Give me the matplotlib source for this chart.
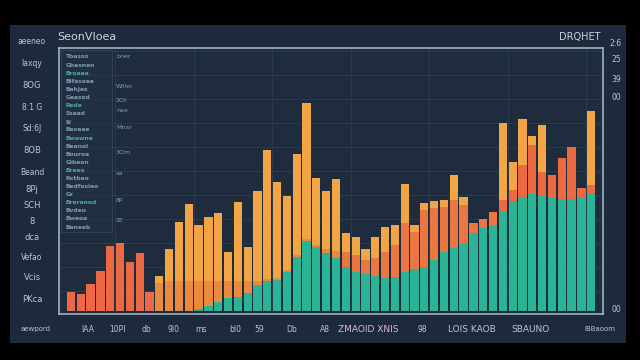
import matplotlib
matplotlib.use("Agg")
import matplotlib.pyplot as plt
from matplotlib.patches import Rectangle
import numpy as np

# ---- data (54 bars, three stacked layers) ----
teal = [0, 0, 0, 0, 0, 0, 0, 0, 0, 0, 0, 0, 0, 0.8, 2, 3.6, 5.2, 5.6, 7.2, 10.4,
        12, 12.4, 15.6, 21.6, 28, 25.6, 23.2, 21.2, 17.6, 15.6, 14.8, 14, 13.2, 13.6,
        15.6, 16.8, 17.6, 20.4, 23.6, 25.2, 27.2, 31.2, 33.2, 34, 39.7, 44, 45.6, 46.8,
        46, 45.2, 44.8, 44.8, 45.6, 47.2]
coral = [7.6, 6.8, 10.8, 16, 26, 27.2, 19.6, 23.2, 7.6, 11.2, 12, 12, 12, 11.2, 10,
         8.4, 6.8, 6.4, 4.8, 1.6, 1, 1, 1, 1, 1, 1, 1.5, 3, 6, 6.8, 5.6, 7.2, 10.4,
         12.8, 19.6, 14.8, 22.8, 20.8, 18, 19.2, 15.2, 4.1, 3.5, 5.7, 4.7, 4.4, 12.8,
         19.6, 9.6, 9.2, 16.3, 20.9, 3.7, 3.2]
amber = [0, 0, 0, 0, 0, 0, 0, 0, 0, 2.8, 12.8, 23.6, 30.8, 22.4, 25.6, 27.2, 11.6,
         31.6, 13.6, 36, 51.4, 38.2, 29.4, 40.2, 54.2, 26.6, 23.3, 28.6, 7.6, 7.2, 4.4,
         8.6, 10.1, 8, 15.6, 2.8, 3, 2.9, 3, 10, 3.1, 0, 0, 0, 30.7, 11.3, 18.3, 3.6,
         18.8, 0, 0, 0, 0, 29.5]

title_left = "SeonVIoea"
title_right = "DRQHET"
y_labels = ["aeeneo", "laxqy", "8OG", "8:1 G", "Sd:6J", "8OB", "Beand", "8Pj",
            "SCH", "8", "dca", "Vefao", "Vcis", "PKca"]
x_labels = ["lAA", "10Pl", "db", "9l0", "ms", "bl0", "59", "Db", "A8",
            "ZMAOID XNIS", "98", "LOIS KAOB", "SBAUNO"]
right_labels = ["2:6", "25", "39", "00", "00"]
legend_rows = ["Tbasso", "Ghesnen", "Broaea", "Bifasoee", "Bahjes", "Geasod",
               "Rede", "Ssaad", "9/", "Bexeae", "Bwawne", "Beanol", "Bouroa",
               "Gibeon", "Breeo", "Rxtbeo", "Bedfosieo", "Gr", "Brerenod",
               "Bvdeu", "Bweoa", "Baneeb"]
legend_col2 = ["bner", "Willer", "2Ot", "nae", "Mnar", "3Om", "xa", "8P", "2E"]

# ---- figure ----
W, H = 640, 360
fig = plt.figure(figsize=(6.4, 3.6), dpi=100, facecolor="black")

def fx(px):
    return px / W

def fy(py):
    return 1 - py / H

panel = Rectangle((fx(10), fy(343)), fx(626) - fx(10), fy(25) - fy(343),
                  transform=fig.transFigure, facecolor="#1d2a3b",
                  edgecolor="none", zorder=-5)
fig.patches.append(panel)

ax = fig.add_axes([fx(59), fy(314), fx(603) - fx(59), fy(48) - fy(314)])
ax.set_zorder(1)
ax.set_facecolor("#1f2c3d")

n = len(teal)
x = np.arange(n)
teal_a = np.array(teal)
coral_a = np.array(coral)
amber_a = np.array(amber)

# middle layer colour shifts from red-orange to orange across regions
mid_colors = []
for i in range(n):
    if i < 9:
        mid_colors.append("#ec6944")
    elif i < 28:
        mid_colors.append("#e98a3f")
    elif i < 44:
        mid_colors.append("#ea7642")
    else:
        mid_colors.append("#ec6a42")

ax.bar(x, teal_a, width=0.84, color="#2bb395", zorder=3)
ax.bar(x, coral_a, bottom=teal_a, width=0.84, color=mid_colors, zorder=3)
ax.bar(x, amber_a, bottom=teal_a + coral_a, width=0.84, color="#f2a545", zorder=3)

ax.set_xlim(-1.22, 54.2)
ax.set_ylim(-1.2, 105.2)
ax.set_yticks(np.arange(8, 105, 9.6))
ax.set_xticks(np.arange(4.5, 54, 8.0))
ax.tick_params(length=0, labelbottom=False, labelleft=False)
ax.grid(True, color="#3a4a5e", linewidth=0.6, alpha=0.55, zorder=1)
for s in ax.spines.values():
    s.set_color("#9fb2c4")
    s.set_linewidth(1.2)

# inner legend-like table
tbl = Rectangle((fx(61), fy(232)), fx(112) - fx(61), fy(50) - fy(232),
                transform=fig.transFigure, facecolor="#23354a",
                edgecolor="#4a5f76", linewidth=0.6, alpha=0.45, zorder=2)
fig.patches.append(tbl)
for i, t in enumerate(legend_rows):
    col = "#4fa6a2" if i % 4 == 2 else "#8299b0"
    fig.text(fx(66), fy(57 + i * 8.1), t, fontsize=4.3, color=col,
             va="center", ha="left", weight="bold", zorder=4)
col2_y = [57, 87, 100, 110, 127, 152, 173, 200, 220]
for t, yy in zip(legend_col2, col2_y):
    fig.text(fx(116), fy(yy), t, fontsize=4.5, color="#8299b0", va="center",
             zorder=4)

# titles
fig.text(fx(57), fy(37), title_left, fontsize=8, color="#c9d6e2", va="center")
fig.text(fx(600), fy(37), title_right, fontsize=7, color="#c9d6e2",
         va="center", ha="right")

# left labels
left_y = [42, 63, 85, 107, 128, 150, 172, 190, 205, 222, 237, 257, 278, 299]
for t, yy in zip(y_labels, left_y):
    fig.text(fx(32), fy(yy), t, fontsize=6 if len(t) < 5 else 5.5,
             color="#b8c6d4", va="center", ha="center")

# right labels
right_y = [43, 60, 80, 98, 310]
for t, yy in zip(right_labels, right_y):
    fig.text(fx(616), fy(yy), t, fontsize=5.5, color="#b8c6d4",
             va="center", ha="center")

# bottom labels
bottom_x = [88, 117, 147, 173, 201, 235, 259, 292, 325, 368, 422, 472, 530]
for t, xx in zip(x_labels, bottom_x):
    c = "#d6b8d8" if "XNIS" in t else "#b8c6d4"
    fig.text(fx(xx), fy(329), t, fontsize=5.5 if len(t) < 5 else 6.5,
             color=c, va="center", ha="center")
fig.text(fx(36), fy(329), "aewpord", fontsize=5, color="#b8c6d4",
         va="center", ha="center")
fig.text(fx(600), fy(329), "lBBaoom", fontsize=5, color="#b8c6d4",
         va="center", ha="center")

fig.savefig("out.png", dpi=100, facecolor="black")
